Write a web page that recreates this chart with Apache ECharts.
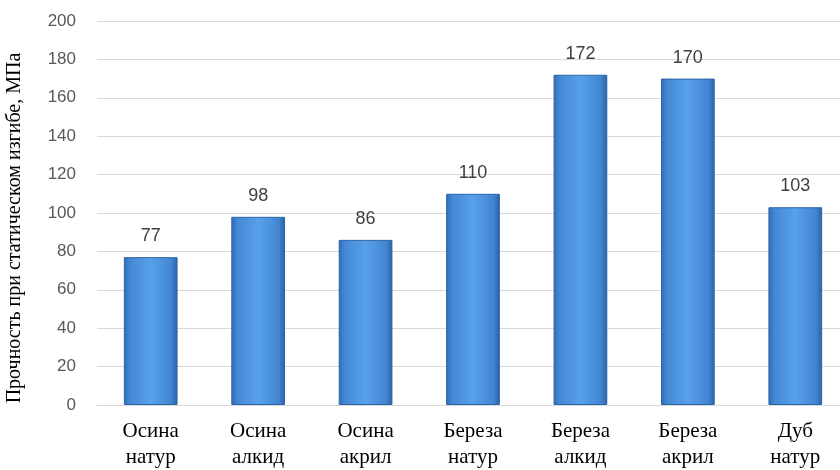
<!DOCTYPE html>
<html>
<head>
<meta charset="utf-8">
<script src="https://cdn.jsdelivr.net/npm/echarts@6/dist/echarts.min.js"></script>
<style>
  html, body { margin: 0; padding: 0; background: #fff; }
  #chart { width: 840px; height: 470px; }
</style>
</head>
<body>
<div id="chart"></div>
<script>
// Strength at static bending by wood species and finish
const categories = ['Осина\nнатур', 'Осина\nалкид', 'Осина\nакрил', 'Береза\nнатур', 'Береза\nалкид', 'Береза\nакрил', 'Дуб\nнатур'];
const strength = [77, 98, 86, 110, 172, 170, 103];
const yTicks = { min: 0, max: 200, interval: 20 };
const yTitle = 'Прочность при статическом изгибе, МПа';

const chart = echarts.init(document.getElementById('chart'));

const barFill = new echarts.graphic.LinearGradient(0, 0, 1, 0, [
  { offset: 0, color: '#2f6db8' },
  { offset: 0.12, color: '#4589d4' },
  { offset: 0.5, color: '#58a0ea' },
  { offset: 0.88, color: '#4286d2' },
  { offset: 1, color: '#2a62a8' }
]);

chart.setOption({
  animation: false,
  grid: { left: 97, top: 21, bottom: 65, width: 752, outerBoundsMode: 'none', containLabel: false },
  xAxis: {
    type: 'category',
    data: categories,
    axisLine: { lineStyle: { color: '#d9d9d9', width: 1 } },
    axisTick: { show: false },
    axisLabel: {
      color: '#000',
      fontFamily: 'Liberation Serif',
      fontSize: 21,
      lineHeight: 26,
      margin: 13
    }
  },
  yAxis: {
    type: 'value',
    min: yTicks.min,
    max: yTicks.max,
    interval: yTicks.interval,
    name: yTitle,
    nameLocation: 'middle',
    nameGap: 72,
    nameTextStyle: {
      color: '#000',
      fontFamily: 'Liberation Serif',
      fontSize: 20,
      padding: [0, 30, 0, 0]
    },
    axisLine: { show: false },
    axisTick: { show: false },
    splitLine: { lineStyle: { color: '#d9d9d9', width: 1 } },
    axisLabel: {
      color: '#595959',
      fontFamily: 'Liberation Sans',
      fontSize: 17,
      margin: 21
    }
  },
  series: [{
    type: 'bar',
    data: strength,
    barWidth: '50%',
    itemStyle: {
      color: barFill,
      borderColor: '#2c64a6',
      borderWidth: 1
    },
    label: {
      show: true,
      position: 'top',
      distance: 12,
      color: '#404040',
      fontFamily: 'Liberation Sans',
      fontSize: 18
    }
  }]
});
</script>
</body>
</html>
